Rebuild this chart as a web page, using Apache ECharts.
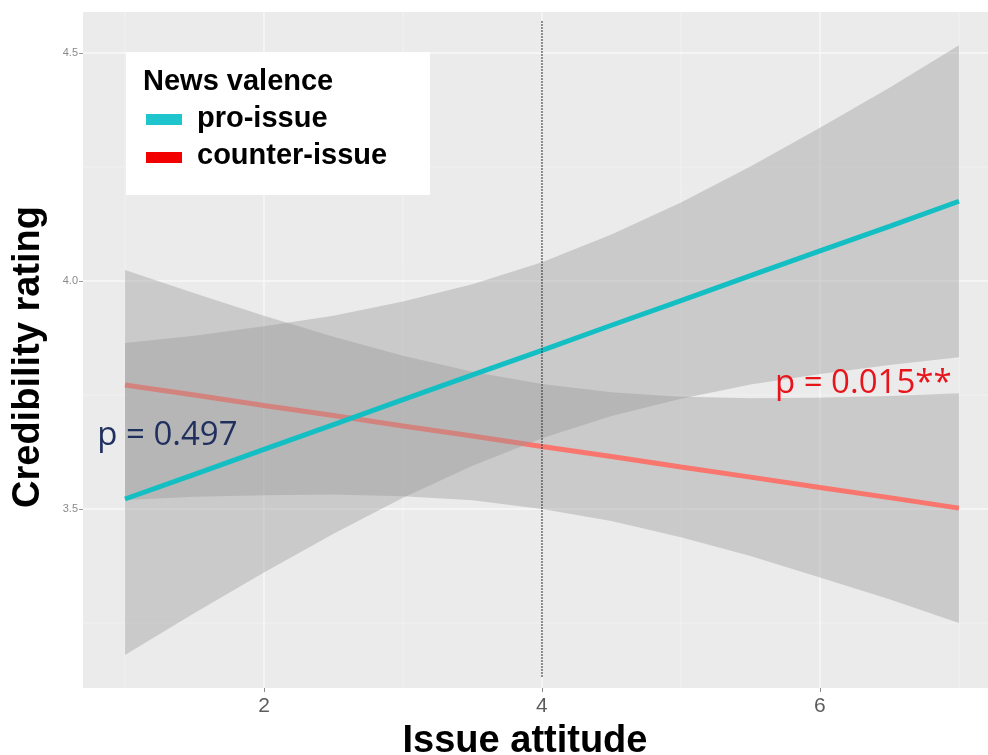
<!DOCTYPE html>
<html>
<head>
<meta charset="utf-8">
<script src="https://cdn.jsdelivr.net/npm/echarts@6/dist/echarts.min.js"></script>
<style>
html,body{margin:0;padding:0;background:#fff;}
#chart{width:988px;height:755px;}
</style>
</head>
<body>
<div id="chart"></div>
<script>
// ---- data ----
const xValues      = [1, 1.5, 2, 2.5, 3, 3.5, 4, 4.5, 5, 5.5, 6, 6.5, 7];
const proFit       = [3.522, 3.576, 3.631, 3.685, 3.740, 3.794, 3.848, 3.903, 3.957, 4.012, 4.066, 4.120, 4.175];
const proUpper     = [3.864, 3.880, 3.901, 3.924, 3.955, 3.993, 4.041, 4.102, 4.172, 4.251, 4.336, 4.424, 4.517];
const proLower     = [3.180, 3.272, 3.361, 3.446, 3.525, 3.595, 3.655, 3.704, 3.742, 3.773, 3.796, 3.816, 3.833];
const counterFit   = [3.772, 3.750, 3.727, 3.705, 3.682, 3.660, 3.637, 3.615, 3.592, 3.570, 3.547, 3.525, 3.502];
const counterUpper = [4.024, 3.973, 3.924, 3.878, 3.836, 3.801, 3.774, 3.756, 3.746, 3.743, 3.744, 3.748, 3.754];
const counterLower = [3.520, 3.527, 3.530, 3.532, 3.528, 3.519, 3.500, 3.474, 3.438, 3.397, 3.350, 3.302, 3.250];
const seriesNames  = ['pro-issue', 'counter-issue'];
const legendTitle  = 'News valence';
const xTicks       = [2, 4, 6];
const xMinorGrid   = [1, 3, 5, 7];
const yTicks       = [3.5, 4.0, 4.5];
const yMinorGrid   = [3.25, 3.75, 4.25];
const vlineX       = 4;
const vlineY       = [3.132, 4.572];
const annotations  = [
  { text: 'p = 0.497',   x: 0.80,  y: 3.662, color: '#1F2F5E' },
  { text: 'p = 0.015**', x: 5.676, y: 3.776, color: '#E8141B' }
];
const xTitle = 'Issue attitude';
const yTitle = 'Credibility rating';

// ---- styles ----
const C_PRO = '#13BFC3', C_CTR = '#F8766D';
const C_PRO_KEY = '#1FC5CD', C_CTR_KEY = '#F20000';
const RIBBON = 'rgba(153,153,153,0.4)';

const chart = echarts.init(document.getElementById('chart'), null, { renderer: 'canvas' });

function ribbonSeries(upper, lower, z) {
  return {
    type: 'custom', z: z, silent: true,
    data: [[xValues[0], lower[0]]],
    renderItem: function (params, api) {
      const pts = [];
      for (let i = 0; i < xValues.length; i++) pts.push(api.coord([xValues[i], upper[i]]));
      for (let i = xValues.length - 1; i >= 0; i--) pts.push(api.coord([xValues[i], lower[i]]));
      return { type: 'polygon', shape: { points: pts }, style: { fill: RIBBON } };
    }
  };
}

function gridSeries(vals, vertical, width, color) {
  return {
    type: 'custom', z: 1, silent: true,
    data: vals.map(v => vertical ? [v, 4] : [4, v]),
    renderItem: function (params, api) {
      const cs = params.coordSys;
      if (vertical) {
        const p = api.coord([api.value(0), 4]);
        return { type: 'line', shape: { x1: p[0], y1: cs.y, x2: p[0], y2: cs.y + cs.height },
                 style: { stroke: color, lineWidth: width } };
      } else {
        const p = api.coord([4, api.value(1)]);
        return { type: 'line', shape: { x1: cs.x, y1: p[1], x2: cs.x + cs.width, y2: p[1] },
                 style: { stroke: color, lineWidth: width } };
      }
    }
  };
}

const option = {
  animation: false,
  backgroundColor: '#FFFFFF',
  grid: { left: 83, right: 0, top: 12, bottom: 67, show: true, backgroundColor: '#EBEBEB', borderWidth: 0, z: 0 },
  xAxis: {
    type: 'value', min: 0.698, max: 7.209,
    splitLine: { show: false }, axisLine: { show: false },
    axisTick: { show: true, customValues: xTicks, length: 4, lineStyle: { color: '#8A8A8A', width: 1 } },
    axisLabel: { customValues: xTicks, fontSize: 21, color: '#5C5C5C', margin: 8,
                 fontFamily: "'Liberation Sans Narrow','Liberation Sans',sans-serif" }
  },
  yAxis: {
    type: 'value', min: 3.1075, max: 4.59,
    splitLine: { show: false }, axisLine: { show: false },
    axisTick: { show: true, customValues: yTicks, length: 4, lineStyle: { color: '#9A9A9A', width: 1 } },
    axisLabel: { customValues: yTicks, fontSize: 11, color: '#8A8A8A', margin: 5,
                 fontFamily: "'Liberation Sans Narrow','Liberation Sans',sans-serif",
                 formatter: v => Number(v).toFixed(1) }
  },
  series: [
    gridSeries(xMinorGrid, true, 0.8, '#F3F3F3'),
    gridSeries(yMinorGrid, false, 0.8, '#F3F3F3'),
    gridSeries(xTicks, true, 1.4, '#F8F8F8'),
    gridSeries(yTicks, false, 1.4, '#F8F8F8'),
    ribbonSeries(counterUpper, counterLower, 2),
    {
      name: seriesNames[1], type: 'line', z: 3, silent: true, showSymbol: false,
      data: xValues.map((x, i) => [x, counterFit[i]]),
      lineStyle: { color: C_CTR, width: 5 }, itemStyle: { color: C_CTR }
    },
    ribbonSeries(proUpper, proLower, 4),
    {
      name: seriesNames[0], type: 'line', z: 5, silent: true, showSymbol: false,
      data: xValues.map((x, i) => [x, proFit[i]]),
      lineStyle: { color: C_PRO, width: 5 }, itemStyle: { color: C_PRO }
    },
    {
      type: 'line', z: 6, silent: true, showSymbol: false,
      data: vlineY.map(y => [vlineX, y]),
      lineStyle: { color: '#3A3A3A', width: 1.5, type: [1.5, 1.5] }
    },
    {
      type: 'custom', z: 7, silent: true,
      data: annotations.map(a => [a.x, a.y]),
      renderItem: function (params, api) {
        const a = annotations[params.dataIndex];
        const p = api.coord([api.value(0), api.value(1)]);
        return { type: 'text', x: p[0], y: p[1],
                 style: { text: a.text, fill: a.color, font: "33px 'Open Sans', sans-serif",
                          align: 'left', verticalAlign: 'middle' } };
      }
    }
  ],
  graphic: [
    // legend box
    { type: 'rect', z: 100, shape: { x: 126, y: 52, width: 304, height: 143 }, style: { fill: '#FFFFFF' } },
    { type: 'text', z: 101, x: 143, y: 82,
      style: { text: legendTitle, font: "bold 29px 'Liberation Sans', Arial, sans-serif", fill: '#000', verticalAlign: 'middle' } },
    { type: 'rect', z: 101, shape: { x: 146, y: 114, width: 36, height: 11 }, style: { fill: C_PRO_KEY } },
    { type: 'text', z: 101, x: 197, y: 119,
      style: { text: seriesNames[0], font: "bold 29px 'Liberation Sans', Arial, sans-serif", fill: '#000', verticalAlign: 'middle' } },
    { type: 'rect', z: 101, shape: { x: 146, y: 152, width: 36, height: 11 }, style: { fill: C_CTR_KEY } },
    { type: 'text', z: 101, x: 197, y: 156,
      style: { text: seriesNames[1], font: "bold 29px 'Liberation Sans', Arial, sans-serif", fill: '#000', verticalAlign: 'middle' } },
    // axis titles
    { type: 'text', z: 101, x: 525, y: 742,
      style: { text: xTitle, font: "bold 38px 'Liberation Sans', Arial, sans-serif", fill: '#000', align: 'center', verticalAlign: 'middle' } },
    { type: 'text', z: 101, x: 29, y: 357, rotation: Math.PI / 2,
      style: { text: yTitle, font: "bold 38px 'Liberation Sans', Arial, sans-serif", fill: '#000', align: 'center', verticalAlign: 'middle' } }
  ]
};
chart.setOption(option);
</script>
</body>
</html>
